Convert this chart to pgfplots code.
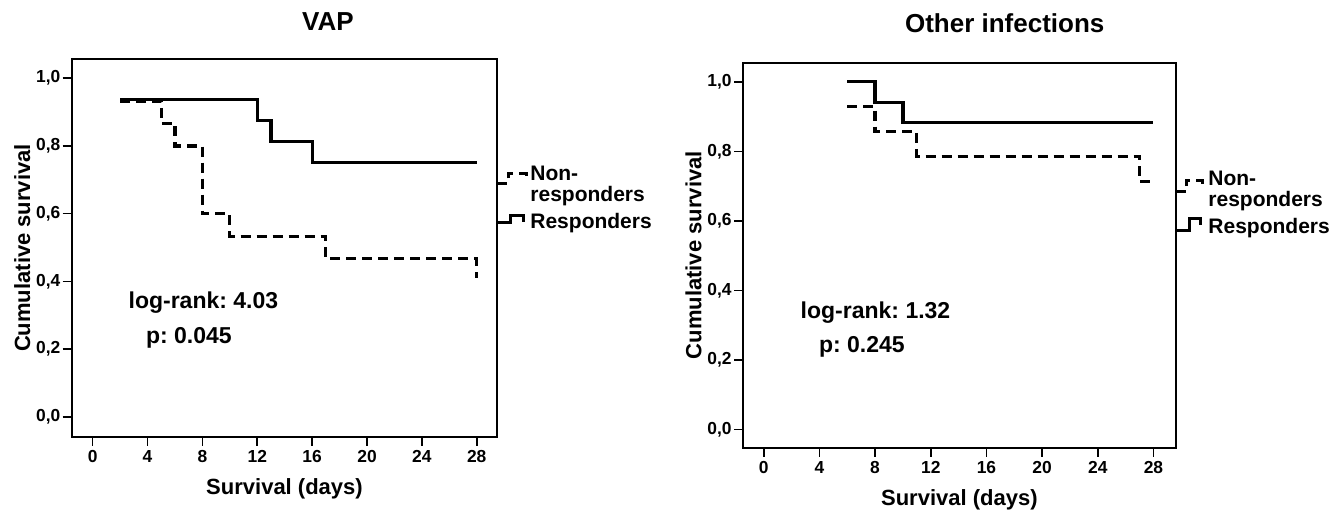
\documentclass[border=0pt]{standalone}
\usepackage{fontspec}
\setmainfont{Liberation Sans}
\usepackage{pgfplots}
\pgfplotsset{compat=1.18}
\frenchspacing
\begin{document}
\begin{tikzpicture}
\path[use as bounding box] (0,0) rectangle (666.5pt,255pt);
\pgfplotsset{
  km/.style={
    scale only axis, clip=false,
    axis line style={line width=1pt},
    tick style={line width=0.8pt, black},
    tick align=outside, xtick pos=left, ytick pos=left,
    major tick length=4.5pt,
    xtick={0,4,8,12,16,20,24,28},
    ytick={0,0.2,0.4,0.6,0.8,1},
    /pgf/number format/assume math mode=true,
    yticklabel style={/pgf/number format/fixed, /pgf/number format/fixed zerofill, /pgf/number format/precision=1, /pgf/number format/use comma, anchor=east, inner sep=0pt, xshift=-1pt},
    ticklabel style={font=\fontsize{8.7}{10}\selectfont\bfseries},
    xticklabel style={anchor=north, inner sep=0pt, yshift=-2pt},
    label style={font=\fontsize{11}{13}\selectfont\bfseries, inner sep=0pt},
    ylabel style={at={(axis description cs:0,0.5)}, anchor=base, yshift=20.8pt},
    xlabel style={at={(axis description cs:0.5,0)}, anchor=base, yshift=-29pt},
    xlabel={Survival (days)},
    ylabel={Cumulative survival},
  },
  resp/.style={black, line width=1.6pt, const plot},
  nonresp/.style={black, line width=1.6pt, const plot, dash pattern=on 5pt off 3pt},
}
% ---------- Left: VAP ----------
\begin{axis}[km,
  at={(35.85pt,36.65pt)}, anchor=south west,
  width=212.8pt, height=188.7pt,
  xmin=-1.53, xmax=29.5, ymin=-0.059, ymax=1.056]
\addplot[resp] coordinates {(2,0.9375) (12,0.875) (13,0.8125) (16,0.75) (28,0.75)};
\addplot[nonresp] coordinates {(2,0.933) (5,0.867) (6,0.8) (8,0.6) (10,0.533) (17,0.467) (28,0.41)};
\node[anchor=base west, inner sep=0pt, font=\fontsize{11.5}{13}\selectfont\bfseries] at (axis cs:2.59,0.3205) {log-rank: 4.03};
\node[anchor=base west, inner sep=0pt, font=\fontsize{11.5}{13}\selectfont\bfseries] at (axis cs:3.86,0.217) {p: 0.045};
\end{axis}
% ---------- Right: Other infections ----------
\begin{axis}[km,
  at={(371.5pt,31.15pt)}, anchor=south west,
  width=216.35pt, height=192.5pt,
  xmin=-1.49, xmax=29.6, ymin=-0.052, ymax=1.055]
\addplot[resp] coordinates {(6,1.0) (8,0.941) (10,0.882) (28,0.882)};
\addplot[nonresp] coordinates {(6,0.929) (8,0.857) (11,0.786) (27,0.714) (28,0.714)};
\node[anchor=base west, inner sep=0pt, font=\fontsize{11.5}{13}\selectfont\bfseries] at (axis cs:2.63,0.32) {log-rank: 1.32};
\node[anchor=base west, inner sep=0pt, font=\fontsize{11.5}{13}\selectfont\bfseries] at (axis cs:3.95,0.221) {p: 0.245};
\end{axis}
% ---------- titles and legends (pixel coordinates) ----------
\begin{scope}[x=0.5pt, y=-0.5pt, yshift=255pt]
\node[anchor=base, inner sep=0pt, font=\fontsize{13}{15}\selectfont\bfseries] at (328,30.7) {VAP};
\node[anchor=base, inner sep=0pt, font=\fontsize{13}{15}\selectfont\bfseries] at (1004.7,32.7) {Other infections};
% left legend
\draw[black, line width=1.5pt, dash pattern=on 5pt off 3pt] (497.3,183.3) -- (508.3,183.3) -- (508.3,173.3) -- (526.7,173.3) -- (526.7,178);
\draw[black, line width=1.5pt] (497.3,222.7) -- (510,222.7) -- (510,215) -- (523.3,215) -- (523.3,221.7);
\begin{scope}[every node/.style={anchor=base west, inner sep=0pt, font=\fontsize{10.5}{12}\selectfont\bfseries}]
\node at (530,180.5) {Non-};
\node at (530,201.5) {responders};
\node at (530,228) {Responders};
\end{scope}
% right legend
\draw[black, line width=1.5pt, dash pattern=on 5pt off 3pt] (1175.7,191.7) -- (1186,191.7) -- (1186,180) -- (1202,180) -- (1202,185);
\draw[black, line width=1.5pt] (1175.7,230) -- (1189,230) -- (1189,218.3) -- (1200.7,218.3) -- (1200.7,225);
\begin{scope}[every node/.style={anchor=base west, inner sep=0pt, font=\fontsize{10.5}{12}\selectfont\bfseries}]
\node at (1208,185.5) {Non-};
\node at (1208,206.5) {responders};
\node at (1208,233) {Responders};
\end{scope}
\end{scope}
\end{tikzpicture}
\end{document}
